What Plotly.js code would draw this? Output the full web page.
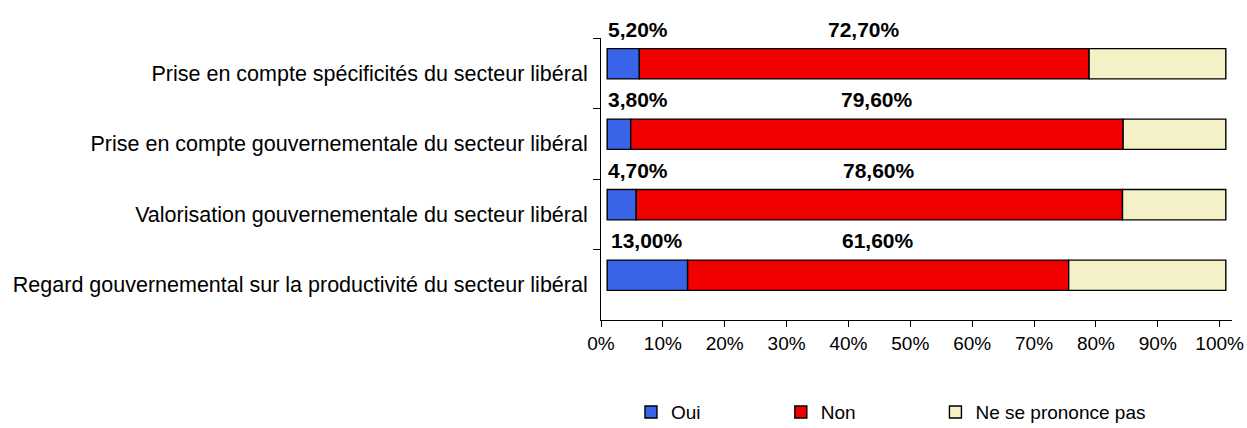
<!DOCTYPE html>
<html>
<head>
<meta charset="utf-8">
<script src="https://cdn.plot.ly/plotly-3.0.1.min.js"></script>
<style>
  body { margin: 0; background: #fff; }
  #chart { width: 1247px; height: 428px; }
</style>
</head>
<body>
<div id="chart"></div>
<script>
// categories, top to bottom
const categories = [
    "Prise en compte spécificités du secteur libéral",
    "Prise en compte gouvernementale du secteur libéral",
    "Valorisation gouvernementale du secteur libéral",
    "Regard gouvernemental sur la productivité du secteur libéral"
];
const oui = [5.2, 3.8, 4.7, 13.0];
const non = [72.7, 79.6, 78.6, 61.6];
const nsp = [22.1, 16.6, 16.7, 25.4];
const xTicks = [0, 10, 20, 30, 40, 50, 60, 70, 80, 90, 100];

const depth = 1; // small shift to the right, like the 3d bars of the original
const fmt = v => v.toFixed(2).replace('.', ',') + '%';
const font = "Liberation Sans, Arial, sans-serif";

function barTrace(name, values, base, color, legendId) {
    return {
        type: 'bar',
        orientation: 'h',
        name: name,
        y: categories,
        x: values,
        base: base,
        width: 0.43,
        offset: -0.35,
        legend: legendId,
        marker: { color: color, line: { color: '#000', width: 1.4 } },
        hoverinfo: 'name+x'
    };
}

const baseOui = oui.map(() => depth);
const baseNon = oui.map(v => v + depth);
const baseNsp = oui.map((v, i) => v + non[i] + depth);

const traces = [
    barTrace('Oui', oui, baseOui, '#3a64e8', 'legend'),
    barTrace('Non', non, baseNon, '#f20000', 'legend2'),
    barTrace('Ne se prononce pas', nsp, baseNsp, '#f3f1c5', 'legend3')
];

const annotations = [];
categories.forEach((c, i) => {
    annotations.push({
        x: Math.max(oui[i] / 2 + depth, 6), y: c, xref: 'x', yref: 'y',
        text: fmt(oui[i]), showarrow: false, yshift: 44,
        font: { family: font, size: 21, color: '#000', weight: 'bold' }
    });
    annotations.push({
        x: oui[i] + non[i] / 2 + depth, y: c, xref: 'x', yref: 'y',
        text: fmt(non[i]), showarrow: false, yshift: 44,
        font: { family: font, size: 21, color: '#000', weight: 'bold' }
    });
});

// one small legend per entry, spaced like the original
function legendAt(x) {
    return {
        orientation: 'h',
        x: x, xanchor: 'left',
        yref: 'container', y: 0.037, yanchor: 'middle',
        bgcolor: 'rgba(0,0,0,0)',
        font: { family: font, size: 19 }
    };
}

const layout = {
    width: 1247,
    height: 428,
    margin: { l: 601, r: 15, t: 38, b: 108, autoexpand: false },
    barmode: 'overlay',
    paper_bgcolor: '#fff',
    plot_bgcolor: '#fff',
    font: { family: font, size: 19, color: '#000' },
    showlegend: true,
    legend: legendAt(0.0475),
    legend2: legendAt(0.285),
    legend3: legendAt(0.53),
    xaxis: {
        range: [0, 102],
        tickvals: xTicks,
        ticktext: xTicks.map(v => v + '%'),
        showgrid: false,
        zeroline: false,
        showline: true,
        linecolor: '#000',
        linewidth: 1,
        ticks: 'outside',
        ticklen: 6,
        tickcolor: '#000',
        ticklabeloverflow: 'allow',
        tickfont: { family: font, size: 19 }
    },
    yaxis: {
        type: 'category',
        range: [3.5, -0.5],
        showgrid: false,
        zeroline: false,
        showline: true,
        linecolor: '#000',
        linewidth: 1,
        ticks: 'outside',
        tickson: 'boundaries',
        ticklen: 7,
        tickcolor: '#000',
        ticklabelstandoff: 8,
        tickfont: { family: font, size: 21.5 }
    },
    annotations: annotations
};

Plotly.newPlot('chart', traces, layout, { displayModeBar: false, staticPlot: true });
</script>
</body>
</html>
